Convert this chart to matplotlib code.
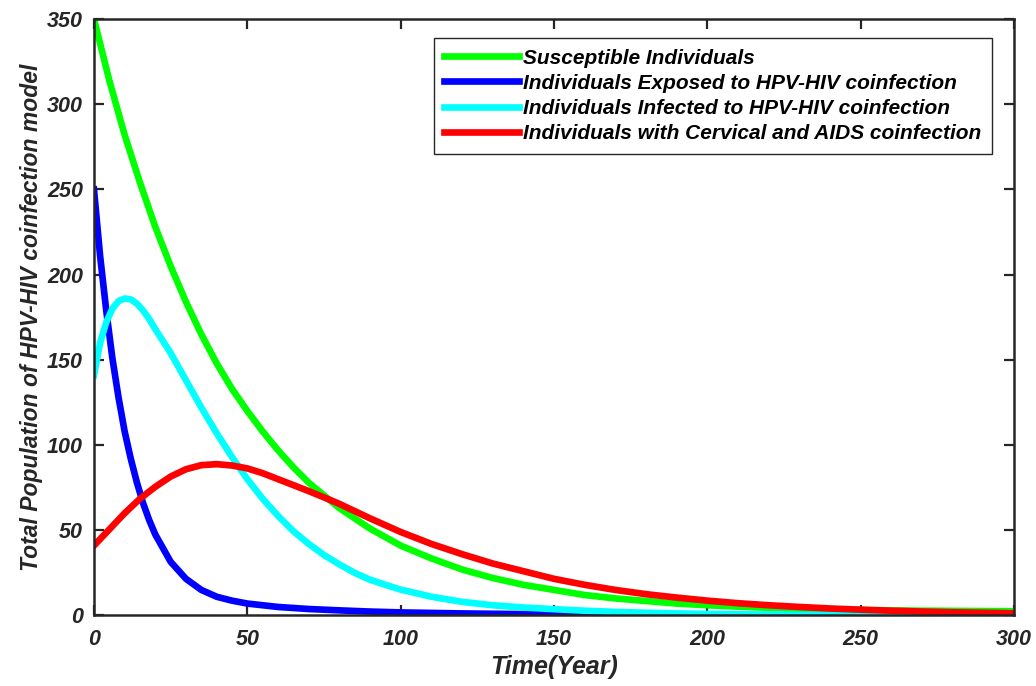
#!/usr/bin/env python3
"""HPV-HIV coinfection model: population classes over time"""

import matplotlib
matplotlib.use('Agg')
import matplotlib.pyplot as plt

plt.rcParams['font.family'] = ['Liberation Sans', 'DejaVu Sans']
plt.rcParams['axes.unicode_minus'] = False

# ── data ──
t_s = [0, 5, 10, 15, 20, 25, 30, 35, 40, 45, 50, 55, 60, 65, 70, 75, 80, 85, 90, 95,
       100, 110, 120, 130, 140, 150, 160, 170, 180, 190, 200, 210, 220, 230, 240, 250,
       260, 270, 280, 290, 300]
susceptible = [350, 314, 282, 254, 228, 205, 184, 165, 148, 133, 120, 108, 97, 87, 78,
               70.5, 63, 57, 51, 46, 41, 33.5, 27, 22, 18, 15, 12, 10, 8.5, 7, 6, 5.2,
               4.5, 4, 3.6, 3.2, 3, 2.8, 2.7, 2.6, 2.5]

t_e = [0, 2, 4, 6, 8, 10, 12, 14, 16, 18, 20, 25, 30, 35, 40, 45, 50, 60, 70, 80,
       90, 100, 120, 140, 160, 180, 200, 250, 300]
exposed = [250, 211, 179, 151, 128, 108, 92, 78, 66, 56, 47.5, 31.5, 21.5, 15, 11, 8.7, 7,
           5, 3.8, 3, 2.3, 1.8, 1.2, 0.8, 0.5, 0.35, 0.25, 0.1, 0.05]

t_i = [0, 2, 4, 6, 8, 10, 12, 14, 16, 18, 20, 25, 30, 35, 40, 45, 50, 55, 60, 65, 70,
       75, 80, 85, 90, 95, 100, 110, 120, 130, 140, 150, 160, 170, 180, 190, 200, 220,
       250, 300]
infected = [141, 160, 172, 180, 184.5, 186, 185.5, 183, 179, 174, 168, 154, 138, 122, 107,
            93, 80, 68.5, 58.5, 49.5, 42, 35.5, 30, 25, 21, 18, 15.2, 11, 8, 6, 4.7, 3.7,
            2.8, 2.1, 1.6, 1.2, 0.9, 0.5, 0.3, 0.1]

t_c = [0, 5, 10, 15, 20, 25, 30, 35, 40, 45, 50, 55, 60, 65, 70, 75, 80, 90, 100, 110,
       120, 130, 140, 150, 160, 170, 180, 190, 200, 210, 220, 230, 240, 250, 260, 270,
       280, 290, 300]
coinfected = [41, 50.5, 60, 68.5, 75.5, 81.5, 85.8, 88.2, 88.8, 88, 86.3, 83.5, 80, 76.5,
              73, 69.3, 65.5, 57, 49, 42, 36, 30.5, 26, 21.5, 18, 15, 12.5, 10.5, 8.7,
              7.2, 6, 5, 4.1, 3.4, 2.8, 2.3, 1.9, 1.6, 1.3]

labels = ['Susceptible Individuals',
          'Individuals Exposed to HPV-HIV coinfection',
          'Individuals Infected to HPV-HIV coinfection',
          'Individuals with Cervical and AIDS coinfection']
colors = ['#00FF00', '#0000FF', '#00FFFF', '#FF0000']

x_ticks = [0, 50, 100, 150, 200, 250, 300]
y_ticks = [0, 50, 100, 150, 200, 250, 300, 350]

dark = '#262626'

fig = plt.figure(figsize=(10.36, 6.86), dpi=100)
ax = fig.add_axes([0.0907, 0.1028, 0.8881, 0.8695])

series = [(t_s, susceptible), (t_e, exposed), (t_i, infected), (t_c, coinfected)]
for (t, y), color, label in zip(series, colors, labels):
    ax.plot(t, y, color=color, linewidth=4.8, label=label, solid_joinstyle='round')

ax.set_xlim(0, 300)
ax.set_ylim(0, 350)
ax.set_xticks(x_ticks)
ax.set_yticks(y_ticks)

for side in ['left', 'right', 'top', 'bottom']:
    ax.spines[side].set_linewidth(1.8)
    ax.spines[side].set_color(dark)

ax.tick_params(axis='both', direction='in', length=7.5, width=1.6, color=dark,
               top=True, right=True, labelcolor=dark, labelsize=15.5)
ax.tick_params(axis='x', pad=10)
ax.tick_params(axis='y', pad=8)
for lbl in ax.get_xticklabels() + ax.get_yticklabels():
    lbl.set_fontweight('bold')
    lbl.set_fontstyle('italic')

ax.set_xlabel('Time(Year)', fontsize=18, fontweight='bold', fontstyle='italic',
              color=dark, labelpad=3)
ax.set_ylabel('Total Population of HPV-HIV coinfection model', fontsize=16.5,
              fontweight='bold', fontstyle='italic', color=dark, labelpad=3)

# legend: box roughly 425..992 px wide, 38..153 px tall
leg = ax.legend(loc='upper right', bbox_to_anchor=(0.976, 0.968),
                handlelength=3.6, handletextpad=0.2, labelspacing=0.3,
                borderpad=0.5, borderaxespad=0, fancybox=False, framealpha=1,
                edgecolor=dark, prop={'weight': 'bold', 'style': 'italic', 'size': 15})
leg.get_frame().set_linewidth(1.0)
for txt in leg.get_texts():
    txt.set_color('black')

fig.savefig('out.png', dpi=100)
